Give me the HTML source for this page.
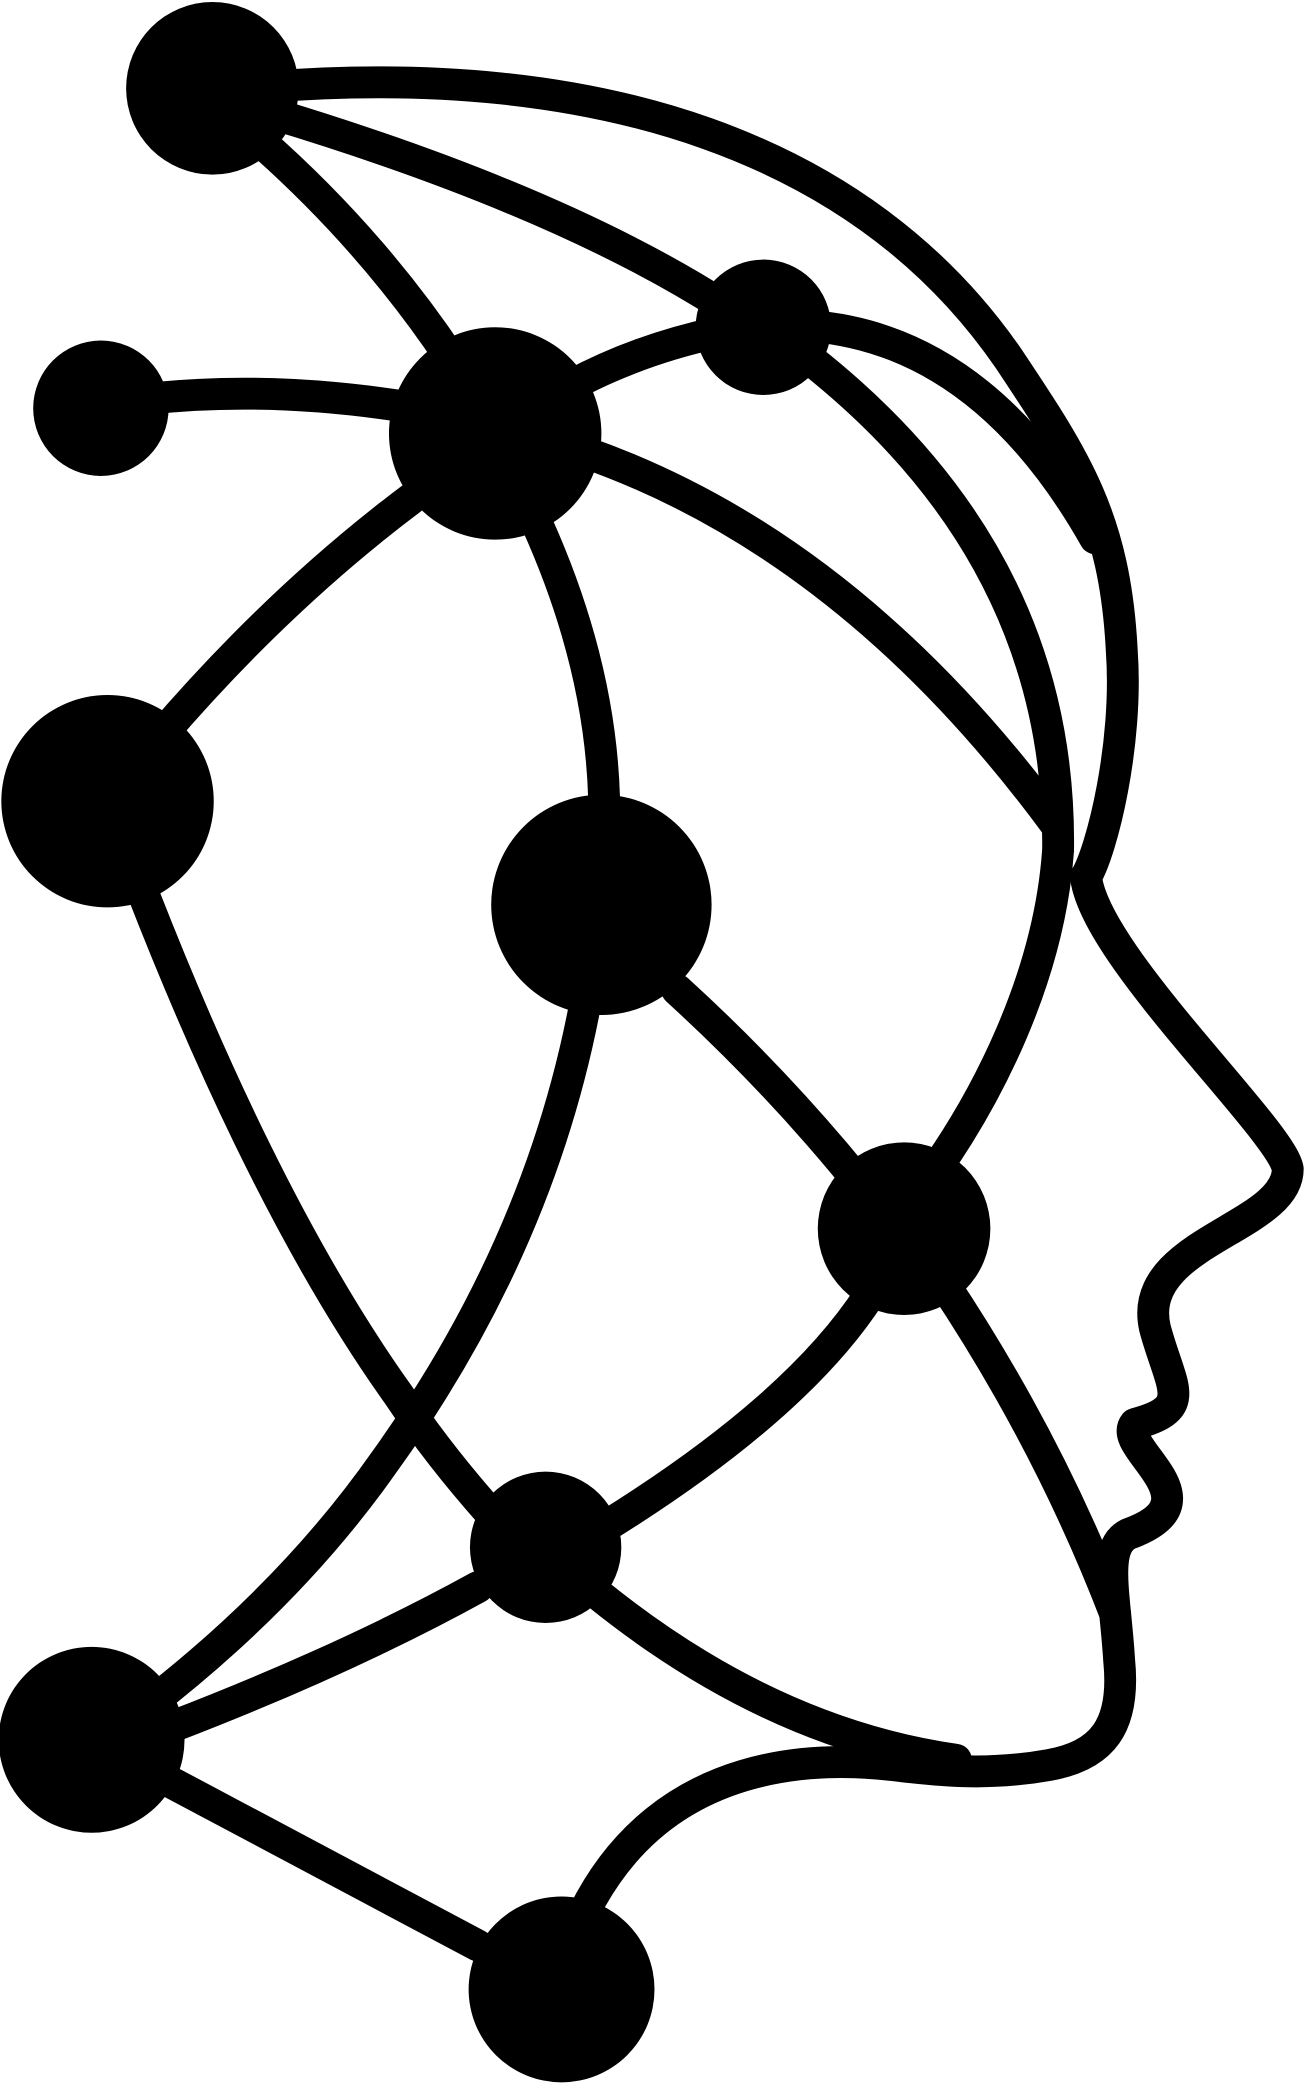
<!DOCTYPE html>
<html><head><meta charset="utf-8"><style>
html,body{margin:0;padding:0;background:#fff;width:1305px;height:2083px;overflow:hidden}
svg{display:block}
</style></head><body>
<svg width="1305" height="2083" viewBox="0 0 983 1568" xmlns="http://www.w3.org/2000/svg">
<g fill="none" stroke="#000" stroke-width="24" stroke-linecap="round" stroke-linejoin="round">
<path d="M200,65 C450,45 650,110 760,270 C810,345 840,390 845,490 C850,560 830,640 818,660 C825,720 965,850 970,880 C970,925 855,935 870,1000 C882,1045 900,1060 855,1072 C840,1090 920,1130 850,1155 C830,1165 840,1200 843,1250 C848,1300 830,1322 790,1329 C740,1338 700,1332 680,1330 C620,1322 500,1320 440,1440"/>
<path d="M205,85 Q420,150 545,230"/>
<path d="M195,105 Q280,180 340,270"/>
<path d="M110,300 Q200,290 300,305"/>
<path d="M430,290 Q480,263 540,250"/>
<path d="M610,245 Q740,255 825,405"/>
<path d="M610,270 Q800,420 797,640 C790,740 740,830 705,880"/>
<path d="M440,340 Q640,410 795,620"/>
<path d="M310,375 Q210,450 120,555"/>
<path d="M405,395 Q452,500 455,600"/>
<path d="M105,665 Q200,910 300,1050 Q330,1095 370,1140"/>
<path d="M440,760 Q405,940 290,1100 Q220,1200 110,1285"/>
<path d="M510,745 Q590,818 655,900"/>
<path d="M655,975 Q600,1060 455,1150"/>
<path d="M710,965 Q790,1085 840,1215"/>
<path d="M360,1195 Q260,1250 130,1300"/>
<path d="M450,1200 Q580,1305 720,1325"/>
<path d="M125,1340 L360,1465"/>
</g>
<g fill="#000">
<circle cx="160" cy="66" r="65"/>
<circle cx="76" cy="307" r="51"/>
<circle cx="373" cy="326" r="80"/>
<circle cx="575" cy="246" r="51"/>
<circle cx="81" cy="603" r="80"/>
<circle cx="453" cy="681" r="83"/>
<circle cx="681" cy="925" r="65"/>
<circle cx="411" cy="1165" r="57"/>
<circle cx="69" cy="1310" r="70"/>
<circle cx="423" cy="1498" r="70"/>
</g>
</svg>
</body></html>
